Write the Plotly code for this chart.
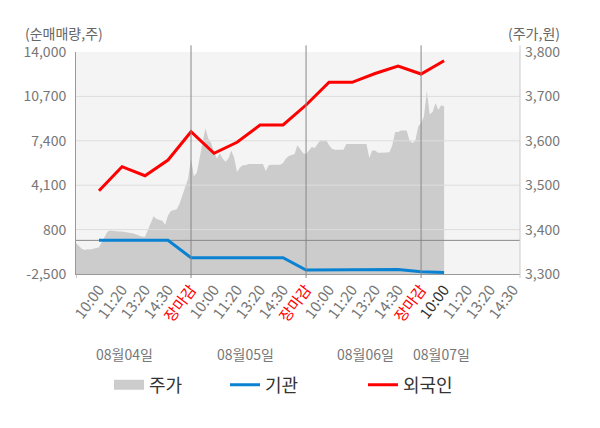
import numpy as np
import plotly.graph_objects as go

# ---------------- data ----------------
days = ["08월04일", "08월05일", "08월06일", "08월07일"]
slot_labels = ["10:00", "11:20", "13:20", "14:30", "장마감"]
slots_last_day = 4          # last day shows 10:00 .. 14:30 only
steps_per_slot = 8          # price samples per label slot

# 주가 (price, KRW) sampled every 1/8 slot
price_d1 = [3370, 3364, 3357, 3354, 3356, 3355, 3357, 3358, 3360, 3372,
            3385, 3396, 3398, 3397, 3396, 3396, 3396, 3395, 3394, 3393,
            3391, 3389, 3386, 3384, 3384, 3398, 3412, 3430, 3424, 3422,
            3420, 3411, 3432, 3442, 3444, 3446, 3458, 3478, 3495, 3515]
price_d2 = [3560, 3520, 3528, 3560, 3598, 3628, 3605, 3595, 3575, 3560,
            3572, 3560, 3553, 3560, 3578, 3562, 3530, 3540, 3545, 3545,
            3548, 3548, 3548, 3548, 3548, 3548, 3532, 3545, 3546, 3546,
            3546, 3546, 3550, 3560, 3566, 3568, 3570, 3590, 3580, 3572]
price_d3 = [3570, 3578, 3586, 3584, 3594, 3602, 3600, 3602, 3590, 3582,
            3580, 3580, 3580, 3580, 3593, 3593, 3593, 3593, 3593, 3593,
            3593, 3593, 3562, 3578, 3578, 3573, 3573, 3573, 3573, 3574,
            3590, 3620, 3620, 3623, 3623, 3623, 3600, 3595, 3600, 3632]
price_d4 = [3640, 3655, 3712, 3660, 3665, 3685, 3670, 3680, 3678]

# 순매매량 (net shares) at each label time, 08/04 10:00 .. 08/07 10:00
foreign = [3690, 5475, 4806, 5972, 8076,
           6470, 7288, 8574, 8574, 10060,
           11760, 11747, 12400, 12958, 12364,
           13350]
institution = [0, 0, 0, 0, -1290,
               -1290, -1290, -1290, -1290, -2200,
               -2200, -2200, -2200, -2160, -2330,
               -2380]

left_ticks = [-2500, 800, 4100, 7400, 10700, 14000]
right_ticks = [3300, 3400, 3500, 3600, 3700, 3800]

# ---------------- derived positions ----------------
n_slots = len(slot_labels)
price = price_d1 + price_d2 + price_d3 + price_d4
price_x = np.arange(len(price)) / steps_per_slot
flow_x = np.arange(1, len(foreign) + 1)

tickvals, ticktext = [], []
for d in range(len(days)):
    labels = slot_labels if d < len(days) - 1 else slot_labels[:slots_last_day]
    for i, lab in enumerate(labels):
        tickvals.append(d * n_slots + i + 1)
        if lab == "장마감":
            ticktext.append("<span style='color:#ff0000'>장마감</span>")
        elif d == len(days) - 1 and i == 0:
            ticktext.append("<span style='color:#333333'>%s</span>" % lab)
        else:
            ticktext.append(lab)
x_max = (len(days) - 1) * n_slots + slots_last_day + 0.3

FONT = "Noto Sans CJK KR"
fig = go.Figure()

# price area on the main (right-side) axis -> drawn underneath
fig.add_trace(go.Scatter(
    x=price_x, y=price, yaxis="y", mode="lines", fill="tozeroy",
    fillcolor="#cccccc", line=dict(width=0, color="#cccccc"),
    name="주가", showlegend=False, hoverinfo="skip"))

# horizontal grid + zero line drawn over the area, under the flow lines
gx, gy = [], []
for v in left_ticks[1:-1]:
    gx += [0, x_max, None]
    gy += [v, v, None]
fig.add_trace(go.Scatter(x=gx, y=gy, yaxis="y2", mode="lines",
                         line=dict(color="#dddddd", width=1),
                         showlegend=False, hoverinfo="skip"))
fig.add_trace(go.Scatter(x=[0, x_max], y=[0, 0], yaxis="y2", mode="lines",
                         line=dict(color="#888888", width=1),
                         showlegend=False, hoverinfo="skip"))

fig.add_trace(go.Scatter(
    x=flow_x, y=institution, yaxis="y2", mode="lines",
    line=dict(color="#0a82d2", width=3), name="기관", legend="legend2"))
fig.add_trace(go.Scatter(
    x=flow_x, y=foreign, yaxis="y2", mode="lines",
    line=dict(color="#ff0000", width=3), name="외국인", legend="legend3"))
# legend swatch for the price area
fig.add_trace(go.Scatter(
    x=[None], y=[None], yaxis="y2", mode="lines",
    line=dict(color="#cccccc", width=15), name="주가", legend="legend"))

shapes = []
for d in range(1, len(days)):
    shapes.append(dict(type="line", xref="x", yref="paper",
                       x0=d * n_slots, x1=d * n_slots, y0=-0.018, y1=1.03,
                       line=dict(color="#888888", width=1)))
shapes.append(dict(type="line", xref="x", yref="paper", x0=0, x1=0,
                   y0=-0.018, y1=0, line=dict(color="#999999", width=1)))
shapes.append(dict(type="line", xref="paper", yref="paper", x0=1, x1=1,
                   y0=-0.018, y1=1.03, line=dict(color="#cccccc", width=1)))

date_pos = [2.09, 7.35, 12.57, 15.87]
annotations = [dict(x=p, y=-0.36, xref="x", yref="paper", text=t,
                    showarrow=False, font=dict(size=14, color="#777777", family=FONT),
                    xanchor="center", yanchor="middle")
               for p, t in zip(date_pos, days)]
annotations.append(dict(x=-0.12, y=1.086, xref="paper", yref="paper",
                        text="(순매매량,주)", showarrow=False, xanchor="left",
                        yanchor="middle", font=dict(size=14, color="#666666", family=FONT)))
annotations.append(dict(x=1.0946, y=1.086, xref="paper", yref="paper",
                        text="(주가,원)", showarrow=False, xanchor="right",
                        yanchor="middle", font=dict(size=14, color="#666666", family=FONT)))

leg = dict(orientation="h", yanchor="middle", xanchor="left", y=-0.5,
           font=dict(size=18, color="#333333", family=FONT),
           bgcolor="rgba(0,0,0,0)", borderwidth=0)

# the page adds an 8px body margin, so the figure is 8px smaller
fig.update_layout(
    width=592, height=420,
    margin=dict(l=68, r=80, t=44, b=154, autoexpand=False),
    paper_bgcolor="white", plot_bgcolor="#f4f4f4",
    font=dict(family=FONT, color="#777777"),
    xaxis=dict(range=[0, x_max], tickmode="array", tickvals=tickvals,
               ticktext=ticktext, tickangle=-53, showgrid=False, zeroline=False,
               showline=True, linecolor="#999999", ticks="",
               tickfont=dict(size=15, color="#777777", family=FONT)),
    yaxis=dict(range=[right_ticks[0], right_ticks[-1]], side="right",
               tickmode="array", tickvals=right_ticks,
               ticktext=[f"{v:,}" for v in right_ticks], showgrid=False,
               zeroline=False, showline=False, ticks="", ticklabelstandoff=4,
               tickfont=dict(size=14, color="#777777", family=FONT)),
    yaxis2=dict(range=[left_ticks[0], left_ticks[-1]], overlaying="y",
                side="left", tickmode="array",
                tickvals=left_ticks, ticktext=[f"{v:,}" for v in left_ticks],
                showgrid=False, zeroline=False,
                showline=True, linecolor="#999999", ticks="",
                ticklabelstandoff=6,
                tickfont=dict(size=14, color="#777777", family=FONT)),
    shapes=shapes, annotations=annotations,
    legend=dict(leg, x=(109 - 76) / 444),
    legend2=dict(leg, x=(225 - 76) / 444),
    legend3=dict(leg, x=(363 - 76) / 444),
    hovermode=False,
)

fig.write_html("out.html")
